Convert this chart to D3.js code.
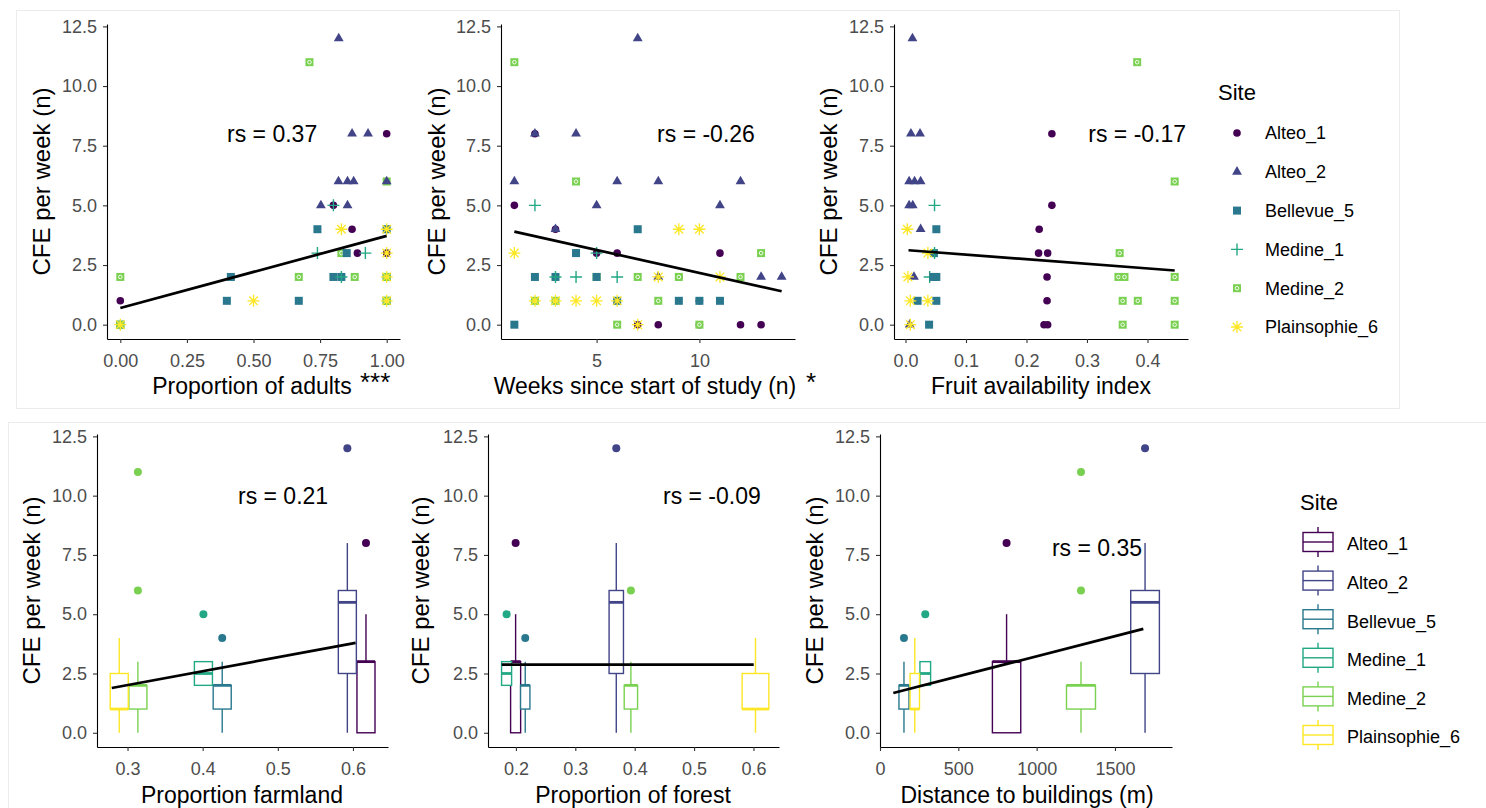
<!DOCTYPE html>
<html>
<head>
<meta charset="utf-8">
<title>CFE per week</title>
<script src="https://cdn.jsdelivr.net/npm/d3@7"></script>
<style>
  body { margin: 0; background: #fff; }
  text { font-family: Arial, "Liberation Sans", sans-serif; }
</style>
</head>
<body>
<script>
// ---- data ----
var sites = ["Alteo_1", "Alteo_2", "Bellevue_5", "Medine_1", "Medine_2", "Plainsophie_6"];
var siteColors = ["#440154", "#414487", "#2A788E", "#22A884", "#7AD151", "#FDE725"];

// top row points: [x value, CFE per week, site index]
var adultsPts = [
  [0,2,4],[0,1,0],[0,0,2],[0,0,4],[0,0,5],
  [0.40,1,2],[0.415,2,2],[0.50,1,5],[0.67,2,4],[0.67,1,2],
  [0.71,11,4],[0.74,4,2],[0.74,3,3],[0.753,5,1],
  [0.80,5,0],[0.80,5,3],[0.80,2,2],
  [0.82,12,1],[0.819,6,1],
  [0.83,4,5],[0.83,3,4],[0.83,2,2],[0.83,2,3],
  [0.853,6,1],[0.853,5,1],[0.85,3,2],
  [0.87,8,1],[0.876,6,1],[0.87,4,0],[0.88,2,4],
  [0.89,3,0],[0.92,3,3],[0.93,8,1],
  [1,8,0],[1,6,4],[1,6,1],[1,4,2],[1,4,5],[1,3,0],[1,3,5],
  [1,2,2],[1,2,4],[1,2,5],[1,1,2],[1,1,4],[1,1,5]
];
var weeksPts = [
  [7,12,1],[1,11,4],
  [2,8,0],[2,8,1],[4,8,1],
  [1,6,1],[4,6,4],[6,6,1],[8,6,1],[12,6,1],
  [1,5,0],[2,5,3],[5,5,1],[11,5,1],
  [3,4,0],[3,4,1],[7,4,2],[9,4,5],[10,4,5],
  [1,3,5],[4,3,0],[4,3,2],[5,3,0],[5,3,3],[6,3,0],[11,3,0],[13,3,4],
  [2,2,2],[3,2,2],[3,2,3],[4,2,3],[5,2,4],[5,2,2],[6,2,3],[7,2,4],[8,2,1],[8,2,5],
  [9,2,0],[9,2,4],[11,2,5],[12,2,4],[13,2,1],[14,2,1],
  [2,1,4],[2,1,5],[3,1,4],[3,1,5],[4,1,5],[5,1,5],[6,1,2],[6,1,5],[8,1,4],[9,1,2],
  [10,1,0],[10,1,2],[11,1,2],
  [1,0,2],[6,0,4],[7,0,0],[7,0,5],[8,0,0],[10,0,0],[10,0,4],[12,0,0],[13,0,0]
];
var fruitPts = [
  [0.0115,12,1],[0.383,11,4],
  [0.009,8,1],[0.024,8,1],[0.242,8,0],
  [0.006,6,1],[0.015,6,1],[0.025,6,1],[0.445,6,4],
  [0.006,5,1],[0.012,5,1],[0.048,5,3],[0.242,5,0],
  [0.003,4,5],[0.025,4,1],[0.051,4,2],[0.221,4,0],
  [0.047,3,2],[0.048,3,3],[0.037,3,5],[0.220,3,0],[0.235,3,0],[0.354,3,4],
  [0.014,2,1],[0.004,2,5],[0.040,2,3],[0.046,2,2],[0.051,2,2],[0.234,2,0],[0.352,2,4],[0.362,2,4],[0.445,2,4],
  [0.020,1,2],[0.008,1,5],[0.051,1,2],[0.037,1,5],[0.234,1,0],[0.359,1,4],[0.384,1,4],[0.445,1,4],
  [0.007,0,1],[0.008,0,5],[0.039,0,2],[0.229,0,0],[0.235,0,0],[0.359,0,4],[0.445,0,4]
];

// fitted lines: two end points [x, y]
var adultsFit = [[0, 0.70], [1, 3.72]];
var weeksFit = [[1, 3.9], [14, 1.4]];
var fruitFit = [[0.005, 3.12], [0.445, 2.27]];
var farmFit = [[0.279, 1.89], [0.6035, 3.79]];
var forestFit = [[0.176, 2.87], [0.6004, 2.87]];
var buildFit = [[85, 1.68], [1681, 4.38]];

// boxplot per site: [whisker low, q1, median, q3, whisker high]
var boxStats = [[0,0,3,3,5], [0,2.5,5.5,6,8], [0,1,2,2,3], [2,2,2.5,3,3], [0,1,2,2,3], [0,1,1,2.5,4]];
var boxOutliers = [[8], [12], [4], [5], [6, 11], []];

// site positions on the bottom-row x variables, and box widths (same units)
var farmX = [0.6173, 0.5925, 0.426, 0.401, 0.3138, 0.289];
var farmW = [0.024, 0.024, 0.024, 0.024, 0.024, 0.024];
var forestX = [0.1995, 0.369, 0.2157, 0.1843, 0.3936, 0.6034];
var forestW = [0.0169, 0.0242, 0.0158, 0.0169, 0.0225, 0.045];
var buildX = [808, 1692, 153, 289, 1283, 222];
var buildW = [181, 183, 64, 68, 185, 60];

var rsLabels = ["rs = 0.37", "rs = -0.26", "rs = -0.17", "rs = 0.21", "rs = -0.09", "rs = 0.35"];
var yTicks = [0, 2.5, 5, 7.5, 10, 12.5];

// ---- drawing ----
var W = 1486, H = 808;
var svg = d3.select("body").append("svg").attr("width", W).attr("height", H);

svg.append("rect").attr("x", 16.5).attr("y", 10.5).attr("width", 1383).attr("height", 398)
  .attr("fill", "none").attr("stroke", "#ececec");
svg.append("rect").attr("x", 8.5).attr("y", 422.5).attr("width", 1490).attr("height", 400)
  .attr("fill", "none").attr("stroke", "#ececec");

function drawPoint(g, px, py, s) {
  var c = siteColors[s];
  var p = g.append("g").attr("transform", "translate(" + px + "," + py + ")");
  if (s == 0) {
    p.append("circle").attr("r", 3.8).attr("fill", c);
  } else if (s == 1) {
    p.append("path").attr("d", d3.symbol(d3.symbolTriangle, 42)()).attr("fill", c);
  } else if (s == 2) {
    p.append("rect").attr("x", -4).attr("y", -4).attr("width", 8).attr("height", 8).attr("fill", c);
  } else if (s == 3) {
    p.append("path").attr("d", "M-6,0H6M0,-6V6").attr("stroke", c).attr("stroke-width", 1.4);
  } else if (s == 4) {
    p.append("rect").attr("x", -4).attr("y", -4).attr("width", 8).attr("height", 8).attr("fill", c);
    p.append("circle").attr("r", 1.8).attr("fill", "none").attr("stroke", "#fff").attr("stroke-width", 0.9);
  } else {
    p.append("path").attr("d", "M-6,0H6M0,-6V6M-4.3,-4.3L4.3,4.3M-4.3,4.3L4.3,-4.3")
      .attr("stroke", c).attr("stroke-width", 1.3);
  }
}

function makePanel(cfg) {
  var x = d3.scaleLinear().domain(cfg.xDomain).range([cfg.left, cfg.right]);
  var y = d3.scaleLinear().domain([-0.6, 12.6]).range([cfg.bottom, cfg.top]);
  var g = svg.append("g");

  var ya = g.append("g").attr("transform", "translate(" + cfg.left + ",0)")
    .call(d3.axisLeft(y).tickValues(yTicks).tickFormat(d3.format(".1f")).tickSize(4).tickPadding(6).tickSizeOuter(0));
  var xa = g.append("g").attr("transform", "translate(0," + cfg.bottom + ")")
    .call(d3.axisBottom(x).tickValues(cfg.xTicks).tickFormat(cfg.fmt).tickSize(4).tickPadding(11).tickSizeOuter(0));
  [ya, xa].forEach(function(a) {
    a.select(".domain").attr("stroke", "#000").attr("stroke-width", 1.1);
    a.selectAll(".tick line").attr("stroke", "#333").attr("stroke-width", 1.1);
    a.selectAll(".tick text").attr("fill", "#4d4d4d").attr("font-size", "18px")
      .attr("font-family", "Arial, 'Liberation Sans', sans-serif");
  });

  g.append("text").attr("x", cfg.titleX).attr("y", cfg.titleY).attr("text-anchor", "middle")
    .attr("font-size", "23px").attr("fill", "#000").text(cfg.title);
  if (cfg.stars) {
    g.append("text").attr("x", cfg.starsX).attr("y", cfg.titleY - 3).attr("font-size", "26px")
      .attr("fill", "#000").text(cfg.stars);
  }
  g.append("text").attr("transform", "translate(" + cfg.yTitleX + "," + (cfg.top + cfg.bottom) / 2 + ") rotate(-90)")
    .attr("text-anchor", "middle").attr("font-size", "24px").attr("fill", "#000").text("CFE per week (n)");

  if (cfg.points) {
    cfg.points.forEach(function(d) { drawPoint(g, x(d[0]), y(d[1]), d[2]); });
  }
  if (cfg.boxX) {
    sites.forEach(function(s, i) {
      var st = boxStats[i], c = siteColors[i];
      var cx = x(cfg.boxX[i]);
      var x0 = x(cfg.boxX[i] - cfg.boxW[i] / 2), x1 = x(cfg.boxX[i] + cfg.boxW[i] / 2);
      var bg = g.append("g");
      bg.append("line").attr("x1", cx).attr("x2", cx).attr("y1", y(st[0])).attr("y2", y(st[1]))
        .attr("stroke", c).attr("stroke-width", 1.4);
      bg.append("line").attr("x1", cx).attr("x2", cx).attr("y1", y(st[3])).attr("y2", y(st[4]))
        .attr("stroke", c).attr("stroke-width", 1.4);
      bg.append("rect").attr("x", x0).attr("y", y(st[3])).attr("width", x1 - x0).attr("height", y(st[1]) - y(st[3]))
        .attr("fill", "#fff").attr("stroke", c).attr("stroke-width", 1.4);
      bg.append("line").attr("x1", x0).attr("x2", x1).attr("y1", y(st[2])).attr("y2", y(st[2]))
        .attr("stroke", c).attr("stroke-width", 2.8);
      // the forest panel in the source does not show Medine_2's 11
      boxOutliers[i].filter(function(v) { return !(cfg.skipOut && cfg.skipOut[0] == i && cfg.skipOut[1] == v); })
        .forEach(function(v) {
          bg.append("circle").attr("cx", cx).attr("cy", y(v)).attr("r", 4).attr("fill", c);
        });
    });
  }

  g.append("path").datum(cfg.fit)
    .attr("d", d3.line().x(function(d) { return x(d[0]); }).y(function(d) { return y(d[1]); }))
    .attr("stroke", "#000").attr("stroke-width", 2.7).attr("fill", "none");

  g.append("text").attr("x", x(cfg.rsAt[0])).attr("y", y(cfg.rsAt[1])).attr("dy", "0.36em")
    .attr("text-anchor", "middle").attr("font-size", "23px").attr("fill", "#000").text(cfg.rs);
}

var topRow = {top: 24, bottom: 339, titleY: 394};
var botRow = {top: 434, bottom: 747, titleY: 803};

makePanel(Object.assign({}, topRow, {left: 107, right: 400, xDomain: [-0.05, 1.05], xTicks: [0, 0.25, 0.5, 0.75, 1],
  fmt: d3.format(".2f"), title: "Proportion of adults", titleX: 252, stars: "***", starsX: 360, yTitleX: 50,
  points: adultsPts, fit: adultsFit, rs: rsLabels[0], rsAt: [0.57, 8]}));
makePanel(Object.assign({}, topRow, {left: 501, right: 795, xDomain: [0.35, 14.65], xTicks: [5, 10],
  fmt: d3.format("d"), title: "Weeks since start of study (n)", titleX: 645, stars: "*", starsX: 806, yTitleX: 445,
  points: weeksPts, fit: weeksFit, rs: rsLabels[1], rsAt: [10.32, 8]}));
makePanel(Object.assign({}, topRow, {left: 894, right: 1188, xDomain: [-0.019, 0.467], xTicks: [0, 0.1, 0.2, 0.3, 0.4],
  fmt: d3.format(".1f"), title: "Fruit availability index", titleX: 1041, yTitleX: 837,
  points: fruitPts, fit: fruitFit, rs: rsLabels[2], rsAt: [0.383, 8]}));

makePanel(Object.assign({}, botRow, {left: 97, right: 388, xDomain: [0.2594, 0.6466], xTicks: [0.3, 0.4, 0.5, 0.6],
  fmt: d3.format(".1f"), title: "Proportion farmland", titleX: 242, yTitleX: 40,
  boxX: farmX, boxW: farmW, fit: farmFit, rs: rsLabels[3], rsAt: [0.507, 10]}));
makePanel(Object.assign({}, botRow, {left: 488, right: 779, xDomain: [0.153, 0.643], xTicks: [0.2, 0.3, 0.4, 0.5, 0.6],
  fmt: d3.format(".1f"), title: "Proportion of forest", titleX: 633, yTitleX: 429,
  boxX: forestX, boxW: forestW, skipOut: [4, 11], fit: forestFit, rs: rsLabels[4], rsAt: [0.53, 10]}));
makePanel(Object.assign({}, botRow, {left: 880, right: 1172, xDomain: [0, 1864], xTicks: [0, 500, 1000, 1500],
  fmt: d3.format("d"), title: "Distance to buildings (m)", titleX: 1027, yTitleX: 823,
  boxX: buildX, boxW: buildW, fit: buildFit, rs: rsLabels[5], rsAt: [1385, 7.8]}));

// ---- legends ----
var leg1 = svg.append("g");
leg1.append("text").attr("x", 1218).attr("y", 100).attr("font-size", "22px").attr("fill", "#000").text("Site");
var legY1 = d3.scalePoint().domain(sites).range([133, 327]);
sites.forEach(function(s, i) {
  drawPoint(leg1, 1237, legY1(s), i);
  leg1.append("text").attr("x", 1265).attr("y", legY1(s)).attr("dy", "0.36em")
    .attr("font-size", "18px").attr("fill", "#000").text(s);
});

var leg2 = svg.append("g");
leg2.append("text").attr("x", 1300).attr("y", 510).attr("font-size", "22px").attr("fill", "#000").text("Site");
var legY2 = d3.scalePoint().domain(sites).range([542, 735]);
sites.forEach(function(s, i) {
  var c = siteColors[i], cy = legY2(s);
  leg2.append("line").attr("x1", 1318).attr("x2", 1318).attr("y1", cy - 15).attr("y2", cy + 15)
    .attr("stroke", c).attr("stroke-width", 1.4);
  leg2.append("rect").attr("x", 1303).attr("y", cy - 9.5).attr("width", 30).attr("height", 19)
    .attr("fill", "#fff").attr("stroke", c).attr("stroke-width", 1.4);
  leg2.append("line").attr("x1", 1303).attr("x2", 1333).attr("y1", cy).attr("y2", cy)
    .attr("stroke", c).attr("stroke-width", 1.4);
  leg2.append("text").attr("x", 1347).attr("y", cy + 2).attr("dy", "0.36em")
    .attr("font-size", "18px").attr("fill", "#000").text(s);
});
</script>
</body>
</html>
